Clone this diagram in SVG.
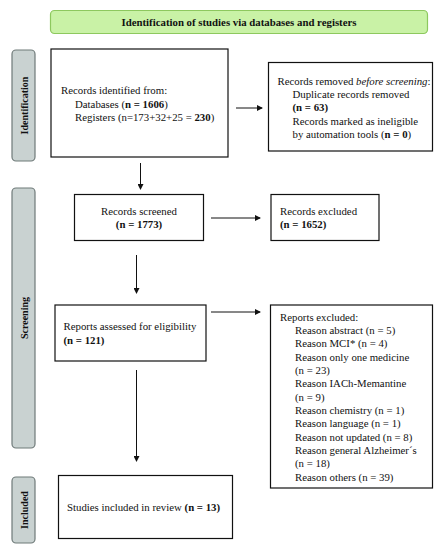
<svg xmlns="http://www.w3.org/2000/svg" width="443" height="550" viewBox="0 0 443 550">
<style>
text{font-family:"Liberation Serif","DejaVu Serif",serif;font-size:10.8px;fill:#111}
.b{font-weight:bold}
.box{fill:#fff;stroke:#111;stroke-width:1.2}
.side{fill:#c9d2d1;stroke:#6f7a79;stroke-width:1.2}
.st{font-size:10px;font-weight:bold}
.c{stroke:#111;stroke-width:1;fill:none}
</style>
<defs>
<marker id="ah" markerWidth="6" markerHeight="6" refX="5" refY="3" orient="auto" markerUnits="userSpaceOnUse">
<path d="M0,0 L6,3 L0,6 z" fill="#111"/>
</marker>
</defs>
<rect width="443" height="550" fill="#fff"/>
<g id="header">
<rect x="50.5" y="10.5" width="377" height="23" rx="4" fill="#c9f2a6" stroke="#8dc85e" stroke-width="1.2"/>
<text x="239" y="25.5" text-anchor="middle" class="b">Identification of studies via databases and registers</text>
</g>
<g id="lane-identification">
<rect class="side" x="12" y="50" width="23" height="111" rx="4"/>
<text class="st" transform="translate(27.5,105.5) rotate(-90)" text-anchor="middle">Identification</text>
</g>
<g id="lane-screening">
<rect class="side" x="12" y="188" width="23" height="260" rx="4"/>
<text class="st" transform="translate(27.5,318) rotate(-90)" text-anchor="middle">Screening</text>
</g>
<g id="lane-included">
<rect class="side" x="12" y="477" width="23" height="66" rx="4"/>
<text class="st" transform="translate(27.5,510) rotate(-90)" text-anchor="middle">Included</text>
</g>
<g id="records-identified">
<rect class="box" x="51" y="49" width="177" height="108"/>
<text x="61" y="94">Records identified from:</text>
<text x="75" y="107.5">Databases (<tspan class="b">n = 1606</tspan>)</text>
<text x="75" y="121">Registers (n=173+32+25 = <tspan class="b">230</tspan>)</text>
</g>
<g id="records-removed">
<rect class="box" x="268.5" y="62.5" width="164" height="88.5"/>
<text x="277.5" y="85" font-size="10.3">Records removed <tspan font-style="italic">before screening</tspan>:</text>
<text x="292.5" y="98">Duplicate records removed</text>
<text x="292.5" y="111" class="b">(n = 63)</text>
<text x="292.5" y="124.5">Records marked as ineligible</text>
<text x="292.5" y="138">by automation tools (<tspan class="b">n = 0</tspan>)</text>
</g>
<g id="records-screened">
<rect class="box" x="74.5" y="194.5" width="129" height="46"/>
<text x="139" y="214.5" text-anchor="middle">Records screened</text>
<text x="139" y="228" text-anchor="middle" class="b">(n = 1773)</text>
</g>
<g id="records-excluded">
<rect class="box" x="271" y="194.5" width="108" height="46"/>
<text x="280" y="214.5">Records excluded</text>
<text x="280" y="228" class="b">(n = 1652)</text>
</g>
<g id="reports-assessed">
<rect class="box" x="55" y="305" width="151" height="56"/>
<text x="63.5" y="330">Reports assessed for eligibility</text>
<text x="63.5" y="343.5" class="b">(n = 121)</text>
</g>
<g id="reports-excluded">
<rect class="box" x="270.5" y="305" width="162" height="183"/>
<text x="280" y="320.5">Reports excluded:</text>
<text x="295" y="334">Reason abstract (n = 5)</text>
<text x="295" y="347.3">Reason MCI* (n = 4)</text>
<text x="295" y="360.6">Reason only one medicine</text>
<text x="295" y="374">(n = 23)</text>
<text x="295" y="387.3">Reason IACh-Memantine</text>
<text x="295" y="400.6">(n = 9)</text>
<text x="295" y="414">Reason chemistry (n = 1)</text>
<text x="295" y="427.3">Reason language (n = 1)</text>
<text x="295" y="440.6">Reason not updated (n = 8)</text>
<text x="295" y="454">Reason general Alzheimer´s</text>
<text x="295" y="467.3">(n = 18)</text>
<text x="295" y="480.6">Reason others (n = 39)</text>
</g>
<g id="studies-included">
<rect class="box" x="58.5" y="475.5" width="174" height="63"/>
<text x="67" y="511">Studies included in review <tspan class="b">(n = 13)</tspan></text>
</g>
<g id="connectors">
<line class="c" x1="236" y1="108" x2="262" y2="108" marker-end="url(#ah)"/>
<line class="c" x1="140.5" y1="163" x2="140.5" y2="189" marker-end="url(#ah)"/>
<line class="c" x1="211" y1="218" x2="260" y2="218" marker-end="url(#ah)"/>
<line class="c" x1="136.5" y1="255" x2="136.5" y2="293" marker-end="url(#ah)"/>
<line class="c" x1="211" y1="312" x2="260" y2="312" marker-end="url(#ah)"/>
<line class="c" x1="136.5" y1="370" x2="136.5" y2="461" marker-end="url(#ah)"/>
</g>
</svg>
